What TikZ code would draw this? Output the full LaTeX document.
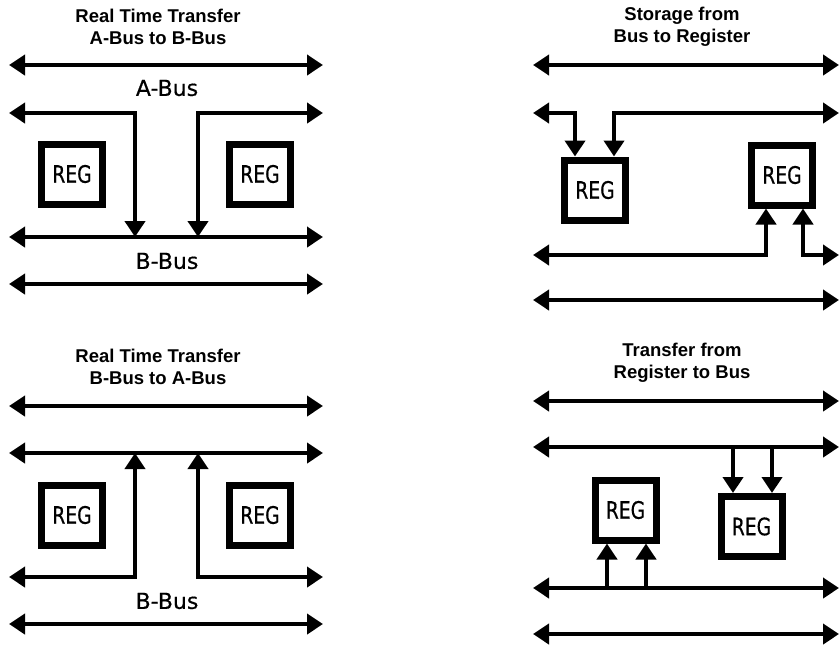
\documentclass[tikz,border=0pt]{standalone}
\usepackage{fontspec}
\usetikzlibrary{arrows.meta,positioning}
\newfontfamily\titlefont{Liberation Sans}
\newfontfamily\labelfont[FakeBold=0.5]{DejaVu Sans}
\newfontfamily\regfont[FakeStretch=0.78,FakeBold=0.5]{DejaVu Sans}

\begin{document}
\begin{tikzpicture}[x=1pt, y=-1pt,
	bus/.style={line width=4.5pt, {Triangle[length=16pt,width=20pt]}-{Triangle[length=16pt,width=20pt]}},
	wire/.style={line width=4.5pt, -{Triangle[length=16pt,width=20pt]}},
	reg/.style={draw, line width=7pt, minimum width=61pt, minimum height=60pt, inner sep=0pt, font=\regfont\fontsize{24}{24}\selectfont},
	title/.style={align=center, font=\titlefont\bfseries\fontsize{18.5}{22}\selectfont},
	buslabel/.style={font=\labelfont\fontsize{22}{22}\selectfont}]
		\useasboundingbox (0,0) rectangle (840,646);
		% top left
		\node[title] (t1) at (158,27) {Real Time Transfer\\A-Bus to B-Bus};
		\coordinate (a1l) at (9,65);
		\coordinate (a1r) at (323,65);
		\coordinate (a2l) at (9,113);
		\coordinate (a2r) at (323,113);
		\coordinate (a3l) at (9,237);
		\coordinate (a3r) at (323,237);
		\coordinate (a4l) at (9,284);
		\coordinate (a4r) at (323,284);
		\coordinate (a2p) at (135,113);
		\coordinate (a2q) at (198,113);
		\node[buslabel] (abus) at (167,88) {A-Bus};
		\node[buslabel] (bbus1) at (167,261) {B-Bus};
		\node[reg] (regA) at (72,174) {REG};
		\node[reg] (regB) at (260,174) {REG};
		\draw[bus] (a1l)--(a1r);
		\draw[bus] (a3l)--(a3r);
		\draw[bus] (a4l)--(a4r);
		\draw[bus] (a2l) -| (a3l -| a2p);
		\draw[bus] (a2r) -| (a3l -| a2q);
		% top right
		\node[title] (t2) at (682,27) {Storage from\\Bus to Register};
		\coordinate (b1l) at (533,65);
		\coordinate (b1r) at (839,65);
		\coordinate (b2l) at (533,113);
		\coordinate (b2r) at (839,113);
		\coordinate (b3l) at (533,255);
		\coordinate (b3r) at (839,255);
		\coordinate (b4l) at (533,300);
		\coordinate (b4r) at (839,300);
		\coordinate (b2p) at (575,113);
		\coordinate (b2q) at (614,113);
		\coordinate (b3p) at (766,255);
		\coordinate (b3q) at (803,255);
		\node[reg] (regC) at (595,190) {REG};
		\node[reg] (regD) at (782,175) {REG};
		\draw[bus] (b1l)--(b1r);
		\draw[bus] (b4l)--(b4r);
		\draw[bus] (b2l) -| (regC.north -| b2p);
		\draw[bus] (b2r) -| (regC.north -| b2q);
		\draw[bus] (b3l) -| (regD.south -| b3p);
		\draw[bus] (b3r) -| (regD.south -| b3q);
		% bottom left
		\node[title] (t3) at (158,367) {Real Time Transfer\\B-Bus to A-Bus};
		\coordinate (c1l) at (9,406);
		\coordinate (c1r) at (323,406);
		\coordinate (c2l) at (9,453);
		\coordinate (c2r) at (323,453);
		\coordinate (c3l) at (9,577);
		\coordinate (c3r) at (323,577);
		\coordinate (c4l) at (9,624);
		\coordinate (c4r) at (323,624);
		\coordinate (c3p) at (135,577);
		\coordinate (c3q) at (198,577);
		\node[buslabel] (bbus2) at (167,601) {B-Bus};
		\node[reg] (regE) at (72,515) {REG};
		\node[reg] (regF) at (260,515) {REG};
		\draw[bus] (c1l)--(c1r);
		\draw[bus] (c2l)--(c2r);
		\draw[bus] (c4l)--(c4r);
		\draw[bus] (c3l) -| (c2l -| c3p);
		\draw[bus] (c3r) -| (c2l -| c3q);
		% bottom right
		\node[title] (t4) at (682,363) {Transfer from\\Register to Bus};
		\coordinate (d1l) at (533,401);
		\coordinate (d1r) at (839,401);
		\coordinate (d2l) at (533,447);
		\coordinate (d2r) at (839,447);
		\coordinate (d3l) at (533,588);
		\coordinate (d3r) at (839,588);
		\coordinate (d4l) at (533,634);
		\coordinate (d4r) at (839,634);
		\coordinate (d2p) at (733,447);
		\coordinate (d2q) at (772,447);
		\coordinate (d3p) at (607,588);
		\coordinate (d3q) at (646,588);
		\node[reg] (regG) at (625.5,510) {REG};
		\node[reg] (regH) at (751.5,526.5) {REG};
		\draw[bus] (d1l)--(d1r);
		\draw[bus] (d2l)--(d2r);
		\draw[bus] (d3l)--(d3r);
		\draw[bus] (d4l)--(d4r);
		\draw[wire] (d2p) -- (regH.north -| d2p);
		\draw[wire] (d2q) -- (regH.north -| d2q);
		\draw[wire] (d3p) -- (regG.south -| d3p);
		\draw[wire] (d3q) -- (regG.south -| d3q);
	\end{tikzpicture}
\end{document}
